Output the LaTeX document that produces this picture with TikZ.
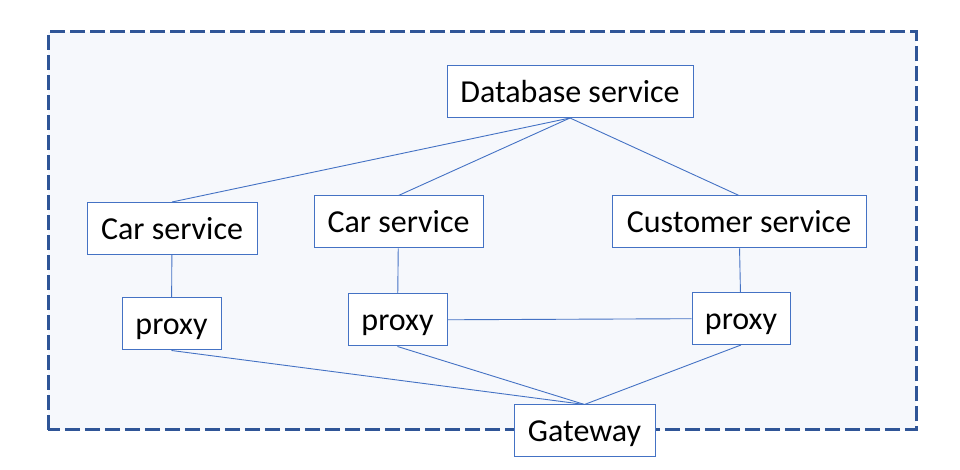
\documentclass[tikz,border=0pt]{standalone}
\usepackage{fontspec}
\setmainfont{Carlito}
\usetikzlibrary{positioning}
\definecolor{boxblue}{HTML}{4472C4}
\definecolor{frameblue}{HTML}{2F5597}
\definecolor{framefill}{HTML}{F6F8FC}
\tikzstyle{svc}=[draw=boxblue,fill=white,line width=0.5pt,inner sep=0pt,minimum height=26pt,text height=14pt,text depth=3pt,font=\fontsize{16}{18}\selectfont]
\tikzstyle{link}=[draw=boxblue,line width=0.45pt]

\begin{document}
\begin{tikzpicture}[x=0.5pt,y=0.5pt]
	\useasboundingbox (0,0) rectangle (960,470);
	\draw[frameblue,fill=framefill,line width=1.5pt,dash pattern=on 7.5pt off 2.5pt] (48,40) rectangle (916,438);
	
	\node [svc, minimum width=123pt] (db) at (570,378.5) {Database service};
	
	\node [svc, minimum width=85pt] (car1) at (172,241.5) {Car service};
	\node [svc, minimum width=84.5pt] (car2) at (398.5,248) {Car service};
	\node [svc, minimum width=127pt] (cust) at (739,248) {Customer service};
	
	\node [svc, minimum width=49.5pt] (prx1) at (171.5,146) {proxy};
	\node [svc, minimum width=49.5pt] (prx2) at (397.5,150) {proxy};
	\node [svc, minimum width=49pt] (prx3) at (741,151.5) {proxy};
	
	\node [svc, minimum width=70.5pt] (gw) at (584.5,39) {Gateway};
	
	\draw[link] (db.south) -- (car1.north);
	\draw[link] (db.south) -- (car2.north);
	\draw[link] (db.south) -- (cust.north);
	
	\draw[link] (car1) -- (prx1);
	\draw[link] (car2) -- (prx2);
	\draw[link] (cust) -- (prx3);
	
	\draw[link] (prx2) -- (prx3);
	
	\draw[link] (prx1.south) -- (gw.north);
	\draw[link] (prx2.south) -- (gw.north);
	\draw[link] (prx3.south) -- (gw.north);
\end{tikzpicture}
\end{document}
